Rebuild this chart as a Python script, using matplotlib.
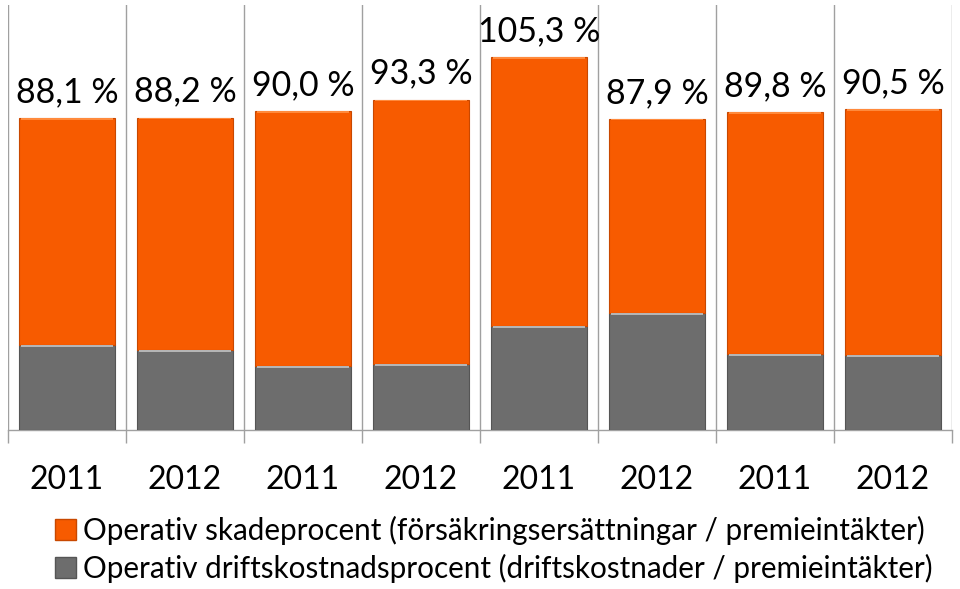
import numpy as np
import matplotlib.pyplot as plt
from matplotlib.patches import Patch

# values (percent)
years = ["2011", "2012", "2011", "2012", "2011", "2012", "2011", "2012"]
totals = [88.1, 88.2, 90.0, 93.3, 105.3, 87.9, 89.8, 90.5]
drift = [24.0, 22.6, 18.1, 18.6, 29.4, 33.0, 21.5, 21.2]
skade = [t - d for t, d in zip(totals, drift)]
total_labels = ["88,1 %", "88,2 %", "90,0 %", "93,3 %", "105,3 %", "87,9 %", "89,8 %", "90,5 %"]

legend_labels = [
    "Operativ skadeprocent (försäkringsersättningar / premieintäkter)",
    "Operativ driftskostnadsprocent (driftskostnader / premieintäkter)",
]

ORANGE = "#F75B00"
GRAY = "#6D6D6D"
SEP = "#A0A0A0"

plt.rcParams["font.family"] = ["Lato", "DejaVu Sans"]

fig = plt.figure(figsize=(9.6, 5.89), dpi=100)
ax = fig.add_axes([8 / 960, 1 - 430 / 589, 944 / 960, 425 / 589])

x = np.arange(len(years))
w = 0.81
ax.bar(x, drift, width=w, color=GRAY, edgecolor="#555555", linewidth=0.8, zorder=3)
ax.bar(x, skade, width=w, bottom=drift, color=ORANGE, edgecolor="#C84800",
       linewidth=0.8, zorder=3)
# light bevel strip at the top of each segment
ax.bar(x, [0.6] * len(x), width=w * 0.97, bottom=[d - 0.6 for d in drift],
       color="#B5B5B5", linewidth=0, zorder=4)
ax.bar(x, [0.5] * len(x), width=w * 0.97, bottom=[t - 0.5 for t in totals],
       color="#FF8A3C", linewidth=0, zorder=4)

for xi, t, lab in zip(x, totals, total_labels):
    ax.text(xi, t + 2.8, lab, ha="center", va="bottom", fontsize=24.5, color="black")

ax.set_xlim(-0.5, len(years) - 0.5)
ax.set_ylim(0, 120.0)
ax.set_yticks([])
ax.set_xticks(x)
ax.set_xticklabels(years, fontsize=23)
ax.tick_params(axis="x", which="major", length=0, pad=25)
ax.set_xticks(np.arange(-0.5, len(years)), minor=True)
ax.tick_params(axis="x", which="minor", length=9, color=SEP, width=1)
ax.grid(True, axis="x", which="minor", color=SEP, linewidth=1, zorder=0)
ax.grid(False, axis="x", which="major")
for s in ["top", "right", "left"]:
    ax.spines[s].set_visible(False)
ax.spines["bottom"].set_color(SEP)
ax.spines["bottom"].set_linewidth(1)

handles = [Patch(facecolor=ORANGE, edgecolor="#C84800"),
           Patch(facecolor=GRAY, edgecolor="#555555")]
fig.legend(handles, legend_labels, loc="upper left", bbox_to_anchor=(40 / 960, 1 - 501 / 589),
           frameon=False, fontsize=21.3, handlelength=0.7, handleheight=0.7,
           handletextpad=0.25, labelspacing=0.3, borderpad=0)

fig.savefig("out.png", dpi=100)
